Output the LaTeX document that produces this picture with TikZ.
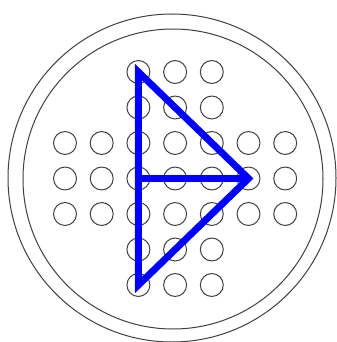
\documentclass[tikz,border=0pt]{standalone}
\usepackage{tikz}

\begin{document}
\begin{tikzpicture}[x=0.75pt,y=-0.75pt]
\tikzset{hole/.style={draw,circle,minimum size=17.2pt,inner sep=0pt,line width=0.75pt,black!75}}
\useasboundingbox (0,0) rectangle (336,342);
\fill[white] (0,0) rectangle (336,342);
\draw[line width=0.75pt,black!75] (172,178) circle (123pt);
\draw[line width=0.75pt,black!75] (173,179) circle (112.5pt);

% holes of the board
\foreach \c in {1,...,7}
  \foreach \r in {1,...,7}
  {
    \pgfmathtruncatemacro{\inside}{(\c>2 && \c<6) || (\r>2 && \r<6)}
    \ifnum\inside=1
      \node (\c-\r) at ({65+(\c-1)*36.7},{72+(\r-1)*35.5}) [hole] {};
    \fi
  }

\draw[blue,line width=5.2pt]
(3-1.center) -- (3-7.center) -- (6-4.center) -- cycle
(3-4.center) -- (6-4.center);
\end{tikzpicture}
\end{document}
